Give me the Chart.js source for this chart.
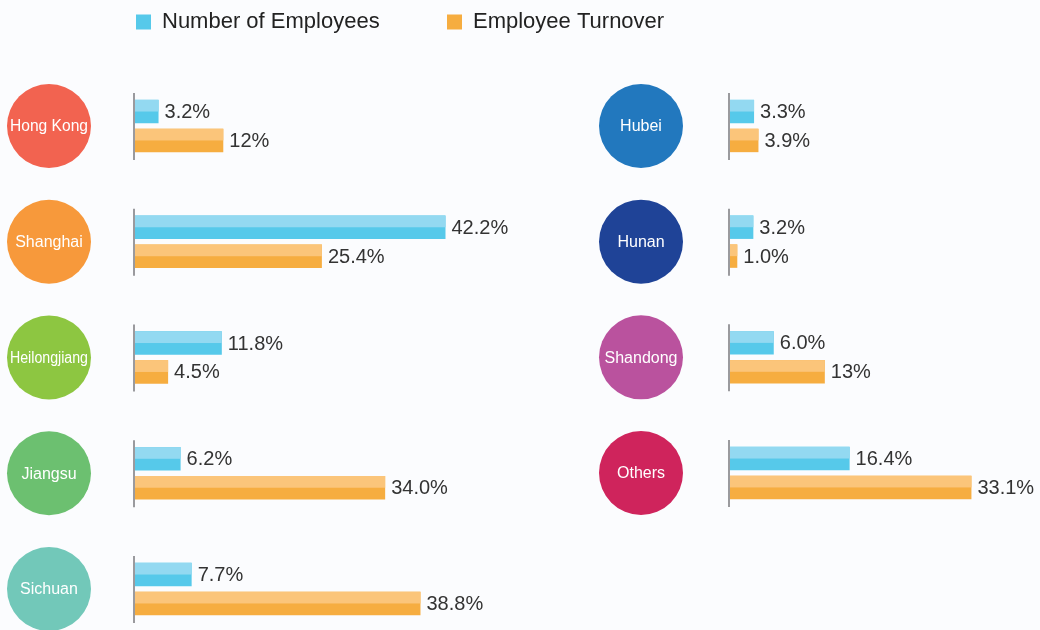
<!DOCTYPE html>
<html>
<head>
<meta charset="utf-8">
<title>Employees by Region</title>
<script src="https://cdn.jsdelivr.net/npm/chart.js@4.4.1/dist/chart.umd.min.js"></script>
<style>
  html, body { margin: 0; padding: 0; background: #fbfcfe; }
  #wrap { position: relative; width: 1040px; height: 630px; }
  #wrap canvas { position: absolute; left: 0; top: 0; }
</style>
</head>
<body>
<div id="wrap">
  <canvas id="leftChart" width="1040" height="630"></canvas>
  <canvas id="rightChart" width="1040" height="630"></canvas>
</div>
<script>
// Data
const seriesNames = ['Number of Employees', 'Employee Turnover'];

const leftRegions = ['Hong Kong', 'Shanghai', 'Heilongjiang', 'Jiangsu', 'Sichuan'];
const leftEmployees = [3.2, 42.2, 11.8, 6.2, 7.7];
const leftTurnover = [12, 25.4, 4.5, 34.0, 38.8];
const leftEmployeeLabels = ['3.2%', '42.2%', '11.8%', '6.2%', '7.7%'];
const leftTurnoverLabels = ['12%', '25.4%', '4.5%', '34.0%', '38.8%'];
const leftCircleColors = ['#f26350', '#f7993b', '#8dc641', '#6cc070', '#72c8b9'];

const rightRegions = ['Hubei', 'Hunan', 'Shandong', 'Others'];
const rightEmployees = [3.3, 3.2, 6.0, 16.4];
const rightTurnover = [3.9, 1.0, 13, 33.1];
const rightEmployeeLabels = ['3.3%', '3.2%', '6.0%', '16.4%'];
const rightTurnoverLabels = ['3.9%', '1.0%', '13%', '33.1%'];
const rightCircleColors = ['#2278be', '#1f4397', '#ba529e', '#cf245c'];

// colours: dark lower half / light upper half
const blueDark = '#56c9ea', blueLight = '#93d9f1';
const orangeDark = '#f6ad40', orangeLight = '#fbc57a';

const FONT = '"Liberation Sans", Arial, Helvetica, sans-serif';

// draws the light top half of each bar, the value labels,
// the short axis line of each group and the region circle
const regionDecor = {
  id: 'regionDecor',
  afterDatasetsDraw(chart, args, opts) {
    const ctx = chart.ctx;
    const x0 = chart.scales.x.getPixelForValue(0);
    const yScale = chart.scales.y;
    ctx.save();

    chart.data.labels.forEach((name, j) => {
      const y = yScale.getPixelForValue(j);
      ctx.strokeStyle = '#9a9a9e';
      ctx.lineWidth = 2;
      ctx.beginPath();
      ctx.moveTo(x0 - 1, y - 33);
      ctx.lineTo(x0 - 1, y + 34);
      ctx.stroke();

      const cx = x0 - opts.circleOffset;
      ctx.fillStyle = opts.colors[j];
      ctx.beginPath();
      ctx.arc(cx, y, 42, 0, Math.PI * 2);
      ctx.fill();
      ctx.fillStyle = '#ffffff';
      ctx.font = '16px ' + FONT;
      ctx.textAlign = 'center';
      ctx.textBaseline = 'middle';
      ctx.fillText(name, cx, y + 1, 78);
    });

    chart.data.datasets.forEach((ds, i) => {
      const meta = chart.getDatasetMeta(i);
      meta.data.forEach((bar, j) => {
        const p = bar.getProps(['x', 'y', 'base', 'height'], true);
        ctx.fillStyle = ds.lightColor;
        ctx.fillRect(p.base, p.y - p.height / 2, p.x - p.base, p.height / 2);
        ctx.fillStyle = '#333333';
        ctx.font = '20px ' + FONT;
        ctx.textAlign = 'left';
        ctx.textBaseline = 'middle';
        ctx.fillText(ds.valueLabels[j], p.x + 6, p.y + 1);
      });
    });
    ctx.restore();
  }
};

function makeChart(id, regions, emp, turn, empLabels, turnLabels, colors, cfg) {
  return new Chart(document.getElementById(id), {
    type: 'bar',
    data: {
      labels: regions,
      datasets: [{
        label: seriesNames[0],
        data: emp,
        valueLabels: empLabels,
        backgroundColor: blueDark,
        lightColor: blueLight,
        clip: false
      }, {
        label: seriesNames[1],
        data: turn,
        valueLabels: turnLabels,
        backgroundColor: orangeDark,
        lightColor: orangeLight,
        clip: false
      }]
    },
    options: {
      indexAxis: 'y',
      responsive: false,
      animation: false,
      events: [],
      categoryPercentage: 0.5,
      barPercentage: 0.81,
      layout: {
        padding: { left: cfg.padLeft, right: 0, top: 10, bottom: cfg.padBottom }
      },
      scales: {
        x: {
          position: 'top',
          min: 0,
          max: cfg.xMax,
          ticks: { display: false },
          grid: { display: false },
          border: { display: false },
          afterFit(scale) { scale.height = 83; }
        },
        y: {
          offset: false,
          display: cfg.yWidth > 0,
          ticks: { display: false },
          grid: { display: false },
          border: { display: false },
          afterFit(scale) { scale.width = cfg.yWidth; }
        }
      },
      plugins: {
        tooltip: { enabled: false },
        legend: {
          align: 'start',
          labels: {
            boxWidth: 15,
            boxHeight: 15,
            padding: 1,
            color: '#222222',
            font: { size: 22, family: FONT },
            filter: (item) => item.datasetIndex === cfg.legendIndex
          }
        },
        regionDecor: { colors: colors, circleOffset: cfg.circleOffset }
      }
    },
    plugins: [regionDecor]
  });
}

makeChart('leftChart', leftRegions, leftEmployees, leftTurnover,
  leftEmployeeLabels, leftTurnoverLabels, leftCircleColors,
  { padLeft: 135, padBottom: 41, xMax: 123, yWidth: 0, legendIndex: 0, circleOffset: 86 });

makeChart('rightChart', rightRegions, rightEmployees, rightTurnover,
  rightEmployeeLabels, rightTurnoverLabels, rightCircleColors,
  { padLeft: 446, padBottom: 157, xMax: 42.5, yWidth: 284, legendIndex: 1, circleOffset: 89 });
</script>
</body>
</html>
